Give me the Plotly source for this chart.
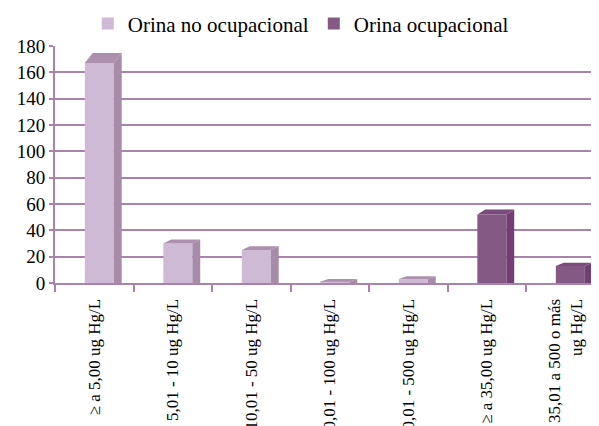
import plotly.graph_objects as go

# ---- data ----
categories = [
    "≥ a 5,00 ug Hg/L",
    "5,01 - 10 ug Hg/L",
    "10,01 - 50 ug Hg/L",
    "50,01 - 100 ug Hg/L",
    "100,01 - 500 ug Hg/L",
    "≥ a 35,00 ug Hg/L",
    "35,01 a 500 o más<br>ug Hg/L",
]
no_ocupacional = [167, 30, 25, 1, 3, None, None]
ocupacional = [None, None, None, None, None, 52, 13]
y_ticks = [0, 20, 40, 60, 80, 100, 120, 140, 160, 180]

# ---- style ----
FONT = "'Times New Roman', 'Liberation Serif', serif"
GRID = "#AB82AD"
FRONT_OFF, FRONT_W, SIDE_DX = -0.12, 0.37, 0.10

series = [
    ("Orina no ocupacional", no_ocupacional, "#CEBAD4", "#A88BA9", "#AC90AD"),
    ("Orina ocupacional", ocupacional, "#845A85", "#723E73", "#7C4B7D"),
]

fig = go.Figure()
for name, vals, c_front, c_side, c_top in series:
    xs = [i for i, v in enumerate(vals) if v is not None]
    ys = [v for v in vals if v is not None]
    fig.add_trace(go.Bar(
        x=xs, y=ys, width=FRONT_W, offset=FRONT_OFF, name=name,
        marker=dict(color=c_front, line=dict(width=0)),
    ))
    sx, sy, tx, ty = [], [], [], []
    for x, v in zip(xs, ys):
        dy = 2 + 0.034 * v
        xl = x + FRONT_OFF
        xr = xl + FRONT_W
        sx += [xr, xr, xr + SIDE_DX, xr + SIDE_DX, xr, None]
        sy += [0, v, v + dy, 0, 0, None]
        tx += [xl, xr, xr + SIDE_DX, xl + SIDE_DX, xl, None]
        ty += [v, v, v + dy, v + dy, v, None]
    fig.add_trace(go.Scatter(x=sx, y=sy, mode="lines", fill="toself",
                             fillcolor=c_side, line=dict(width=0),
                             showlegend=False, hoverinfo="skip"))
    fig.add_trace(go.Scatter(x=tx, y=ty, mode="lines", fill="toself",
                             fillcolor=c_top, line=dict(width=0),
                             showlegend=False, hoverinfo="skip"))

# page body has an 8px margin, so the figure is 8px smaller on each side
fig.update_layout(
    width=591, height=418,
    margin=dict(l=47, r=0, t=38, b=143),
    paper_bgcolor="white", plot_bgcolor="white",
    font=dict(family=FONT, size=19, color="black"),
    showlegend=True,
    legend=dict(orientation="h", xref="container", yref="container",
                x=0.135, y=0.962, xanchor="left", yanchor="middle",
                font=dict(family=FONT, size=21), traceorder="normal",
                entrywidth=181, entrywidthmode="pixels",
                bgcolor="rgba(0,0,0,0)"),
    xaxis=dict(
        range=[-0.5, 6.43], tickvals=list(range(len(categories))),
        ticktext=categories, tickangle=-90,
        tickfont=dict(family=FONT, size=17), ticks="outside", ticklen=7,
        tickcolor="rgba(0,0,0,0)", showgrid=False, zeroline=False,
        showline=True, linecolor=GRID, linewidth=2,
        minor=dict(tickvals=[i - 0.5 for i in range(len(categories) + 1)],
                   ticks="outside", ticklen=7, tickcolor=GRID, tickwidth=2,
                   showgrid=False),
        automargin=False, fixedrange=True,
    ),
    yaxis=dict(
        range=[0, 180], tickvals=y_ticks, showgrid=True, gridcolor=GRID,
        gridwidth=2, zeroline=False, showline=True, linecolor=GRID,
        linewidth=2, ticks="outside", ticklen=4, tickcolor=GRID, tickwidth=2,
        tickfont=dict(family=FONT, size=19), automargin=False,
        fixedrange=True,
    ),
)

fig.write_html("out.html")
